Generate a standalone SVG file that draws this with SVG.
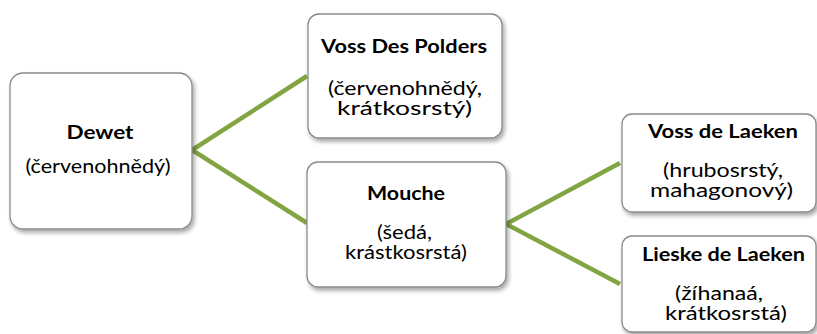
<svg xmlns="http://www.w3.org/2000/svg" width="817" height="334" viewBox="0 0 817 334">
  <defs>
    <filter id="shadow" x="-10%" y="-10%" width="130%" height="130%">
      <feDropShadow dx="2" dy="3" stdDeviation="2" flood-color="#000" flood-opacity="0.35"/>
    </filter>
    <style>
      .box { fill: #ffffff; stroke: #8a8a8a; stroke-width: 1.3; filter: url(#shadow); }
      .link { fill: none; stroke: #82a442; stroke-width: 4.5; stroke-linejoin: miter; }
      .title { font-family: Lato, "Open Sans", "Liberation Sans", sans-serif; font-weight: bold; font-size: 19px; fill: #000; text-anchor: middle; }
      .desc { font-family: Lato, "Open Sans", "Liberation Sans", sans-serif; font-size: 19.5px; fill: #000; text-anchor: middle; }
    </style>
  </defs>
  <rect width="817" height="334" fill="#ffffff"/>

  <g id="connectors">
    <polyline class="link" points="307,76 192,150 307,223"/>
    <polyline class="link" points="620,163 506,224 620,284"/>
  </g>

  <g id="dewet">
    <rect class="box" x="10" y="73" width="182" height="156" rx="13"/>
    <text class="title" x="100" y="139" textLength="67" lengthAdjust="spacingAndGlyphs">Dewet</text>
    <text class="desc" x="98" y="173" textLength="145" lengthAdjust="spacingAndGlyphs">(červenohnědý)</text>
  </g>

  <g id="voss-des-polders">
    <rect class="box" x="308" y="14" width="194" height="124" rx="11"/>
    <text class="title" x="404" y="53" textLength="166" lengthAdjust="spacingAndGlyphs">Voss Des Polders</text>
    <text class="desc" x="405" y="94.5" textLength="154" lengthAdjust="spacingAndGlyphs">(červenohnědý,</text>
    <text class="desc" x="404.5" y="114.5" textLength="135" lengthAdjust="spacingAndGlyphs">krátkosrstý)</text>
  </g>

  <g id="mouche">
    <rect class="box" x="307" y="162" width="199" height="125" rx="11"/>
    <text class="title" x="406" y="200" textLength="78" lengthAdjust="spacingAndGlyphs">Mouche</text>
    <text class="desc" x="404.5" y="239" textLength="55" lengthAdjust="spacingAndGlyphs">(šedá,</text>
    <text class="desc" x="406" y="259" textLength="122" lengthAdjust="spacingAndGlyphs">krástkosrstá)</text>
  </g>

  <g id="voss-de-laeken">
    <rect class="box" x="622" y="114" width="194" height="98" rx="10"/>
    <text class="title" x="723" y="138" textLength="150" lengthAdjust="spacingAndGlyphs">Voss de Laeken</text>
    <text class="desc" x="723" y="177" textLength="120" lengthAdjust="spacingAndGlyphs">(hrubosrstý,</text>
    <text class="desc" x="721.5" y="197" textLength="143" lengthAdjust="spacingAndGlyphs">mahagonový)</text>
  </g>

  <g id="lieske-de-laeken">
    <rect class="box" x="622" y="236" width="194" height="96" rx="10"/>
    <text class="title" x="723.5" y="261" textLength="163" lengthAdjust="spacingAndGlyphs">Lieske de Laeken</text>
    <text class="desc" x="719" y="300" textLength="88" lengthAdjust="spacingAndGlyphs">(žíhanaá,</text>
    <text class="desc" x="726" y="320" textLength="122" lengthAdjust="spacingAndGlyphs">krátkosrstá)</text>
  </g>
</svg>
